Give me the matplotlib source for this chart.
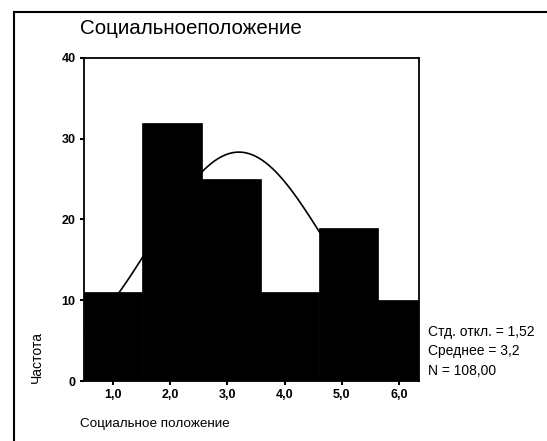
import numpy as np
import matplotlib
matplotlib.use("Agg")
import matplotlib.pyplot as plt
from matplotlib.lines import Line2D

# data
bin_edges = [0.49, 1.51, 2.56, 3.58, 4.60, 5.63, 6.35]
counts = [11, 32, 25, 11, 19, 10]
mean_val = 3.2
std_val = 1.52
n_val = 108
xticks = [1.0, 2.0, 3.0, 4.0, 5.0, 6.0]
xtick_labels = ["1,0", "2,0", "3,0", "4,0", "5,0", "6,0"]
yticks = [0, 10, 20, 30, 40]
title = "Социальноеположение"
xlabel = "Социальное положение"
ylabel = "Частота"
stats = ["Стд. откл. = 1,52", "Среднее = 3,2", "N = 108,00"]

plt.rcParams['font.family'] = ['Liberation Sans', 'DejaVu Sans']

W, H = 547, 441
fig = plt.figure(figsize=(W / 100, H / 100), dpi=100)
ax = fig.add_axes([84 / W, 1 - 381 / H, (419 - 84) / W, (381 - 58) / H])

widths = np.diff(bin_edges)
ax.bar(bin_edges[:-1], counts, width=widths, align='edge', color='black',
       edgecolor='black', linewidth=0.5, zorder=2)

xs = np.linspace(0.49, 6.35, 300)
ys = n_val * 1.0 / (std_val * np.sqrt(2 * np.pi)) * np.exp(-0.5 * ((xs - mean_val) / std_val) ** 2)
ax.plot(xs, ys, color='black', linewidth=1.2, zorder=3)

ax.set_xlim(0.49, 6.35)
ax.set_ylim(0, 40)
ax.set_xticks(xticks)
ax.set_xticklabels(xtick_labels, fontsize=9, fontweight='bold')
ax.set_yticks(yticks)
ax.set_yticklabels([str(v) for v in yticks], fontsize=9, fontweight='bold')
ax.tick_params(direction='out', length=3, width=1.5, pad=3)
for s in ax.spines.values():
    s.set_linewidth(1.3)

fig.text(80 / W, 1 - 28 / H, title, fontsize=14.8, ha='left', va='center')
fig.text(80 / W, 1 - 424 / H, xlabel, fontsize=9.7, ha='left', va='center')
fig.text(37 / W, 1 - 357 / H, ylabel, fontsize=10, rotation=90, ha='center', va='center')
for i, s in enumerate(stats):
    fig.text(428 / W, 1 - (332 + 19.5 * i) / H, s, fontsize=10, ha='left', va='center')

# outer frame lines
fig.add_artist(Line2D([14 / W, 14 / W], [1 - 12 / H, 0], color='black', linewidth=1.5,
                      transform=fig.transFigure))
fig.add_artist(Line2D([14 / W, 1], [1 - 12 / H, 1 - 12 / H], color='black', linewidth=1.5,
                      transform=fig.transFigure))

fig.savefig("out.png", dpi=100)
